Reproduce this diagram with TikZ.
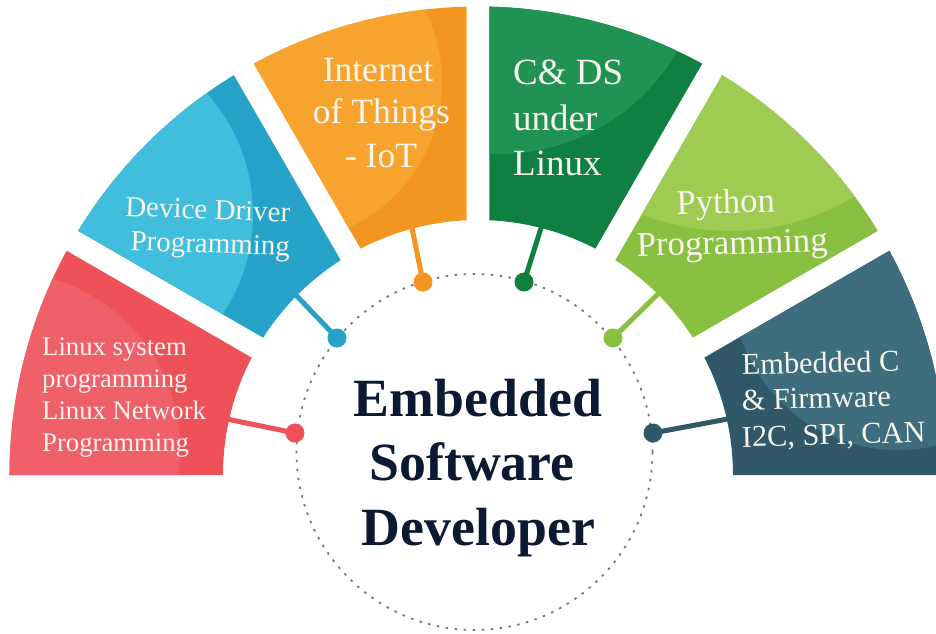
\documentclass[tikz,border=0pt]{standalone}
\usepackage{fontspec}
\setmainfont{Liberation Serif}
\definecolor{redD}{HTML}{EE5258}
\definecolor{redL}{HTML}{F0606B}
\definecolor{bluD}{HTML}{27A2C8}
\definecolor{bluL}{HTML}{40BEDB}
\definecolor{oraD}{HTML}{F39621}
\definecolor{oraL}{HTML}{F7A42F}
\definecolor{grnD}{HTML}{0F7F42}
\definecolor{grnL}{HTML}{209252}
\definecolor{lgD}{HTML}{8AC042}
\definecolor{lgL}{HTML}{9ECC52}
\definecolor{tlD}{HTML}{305868}
\definecolor{tlL}{HTML}{3E6D7D}
\definecolor{navy}{HTML}{0B1932}
\definecolor{txtc}{HTML}{F8F5EE}
\definecolor{dotgray}{HTML}{777777}
\def\Ro{468.5}
\def\Ri{255}
\def\G{11.5}
% segment path: #1 start angle, #2 end angle, #3 half gap at #1, #4 half gap at #2
\newcommand\segpath[4]{({#1+asin(#3/\Ro)}:\Ro) arc[start angle={#1+asin(#3/\Ro)}, end angle={#2-asin(#4/\Ro)}, radius=\Ro] -- ({#2-asin(#4/\Ri)}:\Ri) arc[start angle={#2-asin(#4/\Ri)}, end angle={#1+asin(#3/\Ri)}, radius=\Ri] -- cycle}
\newcommand\segment[7]{% angles, gaps, dark, light, circle centre, circle radius
  \fill[#5] \segpath{#1}{#2}{#3}{#4};
  \begin{scope}
    \clip \segpath{#1}{#2}{#3}{#4};
    \fill[#6] #7;
  \end{scope}}
\begin{document}
\begin{tikzpicture}[x=1pt,y=1pt,
  stxt/.style={text=txtc, inner sep=0pt},
  ctxt/.style={text=navy, inner sep=0pt, anchor=base, font=\fontsize{53.8}{64}\selectfont\bfseries},
  conn/.style={line width=5pt},
  dotn/.style={circle, inner sep=0pt, minimum size=19pt},
  guide/.style={draw=dotgray, line width=1.8pt, dash pattern=on 2.5pt off 6.5pt}]
\clip (-478,-158) rectangle (458,475);
\fill[white] (-478,-158) rectangle (458,475);

% dotted circle
\draw[guide] (-3.5,23) circle[radius=178];

% connector ends
\coordinate (rs) at (-256,57);   \coordinate (rp) at (-183,42);
\coordinate (bs) at (-185,183);  \coordinate (bp) at (-141,137);
\coordinate (os) at (-67,252);   \coordinate (op) at (-55,193);
\coordinate (gs) at (64,250);    \coordinate (gp) at (46,193);
\coordinate (ls) at (181,182);   \coordinate (lp) at (135,137);
\coordinate (ts) at (255,57);    \coordinate (tp) at (175,42);

\draw[conn, redD] (rs) -- (rp);
\draw[conn, bluD] (bs) -- (bp);
\draw[conn, oraD] (os) -- (op);
\draw[conn, grnD] (gs) -- (gp);
\draw[conn, lgD]  (ls) -- (lp);
\draw[conn, tlD]  (ts) -- (tp);

% segments
\segment{150}{180}{\G}{0}{redD}{redL}{(-475,26) circle[radius=177]}
\segment{120}{150}{\G}{\G}{bluD}{bluL}{(-406,261) circle[radius=181]}
\segment{90}{120}{\G}{\G}{oraD}{oraL}{(-196,393) circle[radius=160]}
\segment{60}{90}{\G}{\G}{grnD}{grnL}{(21,527) circle[radius=206]}
\segment{30}{60}{\G}{\G}{lgD}{lgL}{(252,484) circle[radius=240]}
\segment{0}{30}{0}{\G}{tlD}{tlL}{(420,191) circle[radius=166]}

% dots
\node[dotn, fill=redD] (rdot) at (rp) {};
\node[dotn, fill=bluD] (bdot) at (bp) {};
\node[dotn, fill=oraD] (odot) at (op) {};
\node[dotn, fill=grnD] (gdot) at (gp) {};
\node[dotn, fill=lgD]  (ldot) at (lp) {};
\node[dotn, fill=tlD]  (tdot) at (tp) {};

% segment texts
\begin{scope}[every node/.style={stxt, font=\fontsize{26.7}{32}\selectfont, anchor=base west}]
\node (r1) at (-436,120) {Linux system};
\node (r2) at (-436,88) {programming};
\node (r3) at (-436,56) {Linux Network};
\node (r4) at (-436,23.5) {Programming};
\end{scope}
\begin{scope}[every node/.style={stxt, font=\fontsize{29}{34}\selectfont, anchor=base, rotate=-2}]
\node (b1) at (-270.5,256) {Device Driver};
\node (b2) at (-268,222) {Programming};
\end{scope}
\begin{scope}[every node/.style={stxt, font=\fontsize{35.5}{42}\selectfont, anchor=base}]
\node (o1) at (-100,393) {Internet};
\node (o2) at (-96.5,352) {of Things};
\node (o3) at (-97,308) {- IoT};
\end{scope}
\begin{scope}[every node/.style={stxt, font=\fontsize{37}{45}\selectfont, anchor=base west}]
\node (g1) at (35,390) {C\& DS};
\node (g2) at (35,345) {under};
\node (g3) at (35,300) {Linux};
\end{scope}
\begin{scope}[every node/.style={stxt, font=\fontsize{34.7}{40}\selectfont, anchor=base, rotate=1.5}]
\node (l1) at (248,262) {Python};
\node (l2) at (254.5,221) {Programming};
\end{scope}
\begin{scope}[every node/.style={stxt, font=\fontsize{30.3}{36}\selectfont, anchor=base west, rotate=1.5}]
\node (t1) at (264,100) {Embedded C};
\node (t2) at (264,65) {\& Firmware};
\node (t3) at (264,28) {I2C, SPI, CAN};
\end{scope}

% centre text
\node[ctxt] (c1) at (0,59) {Embedded};
\node[ctxt] (c2) at (-6,-5) {Software};
\node[ctxt] (c3) at (0.5,-70) {Developer};
\end{tikzpicture}
\end{document}
